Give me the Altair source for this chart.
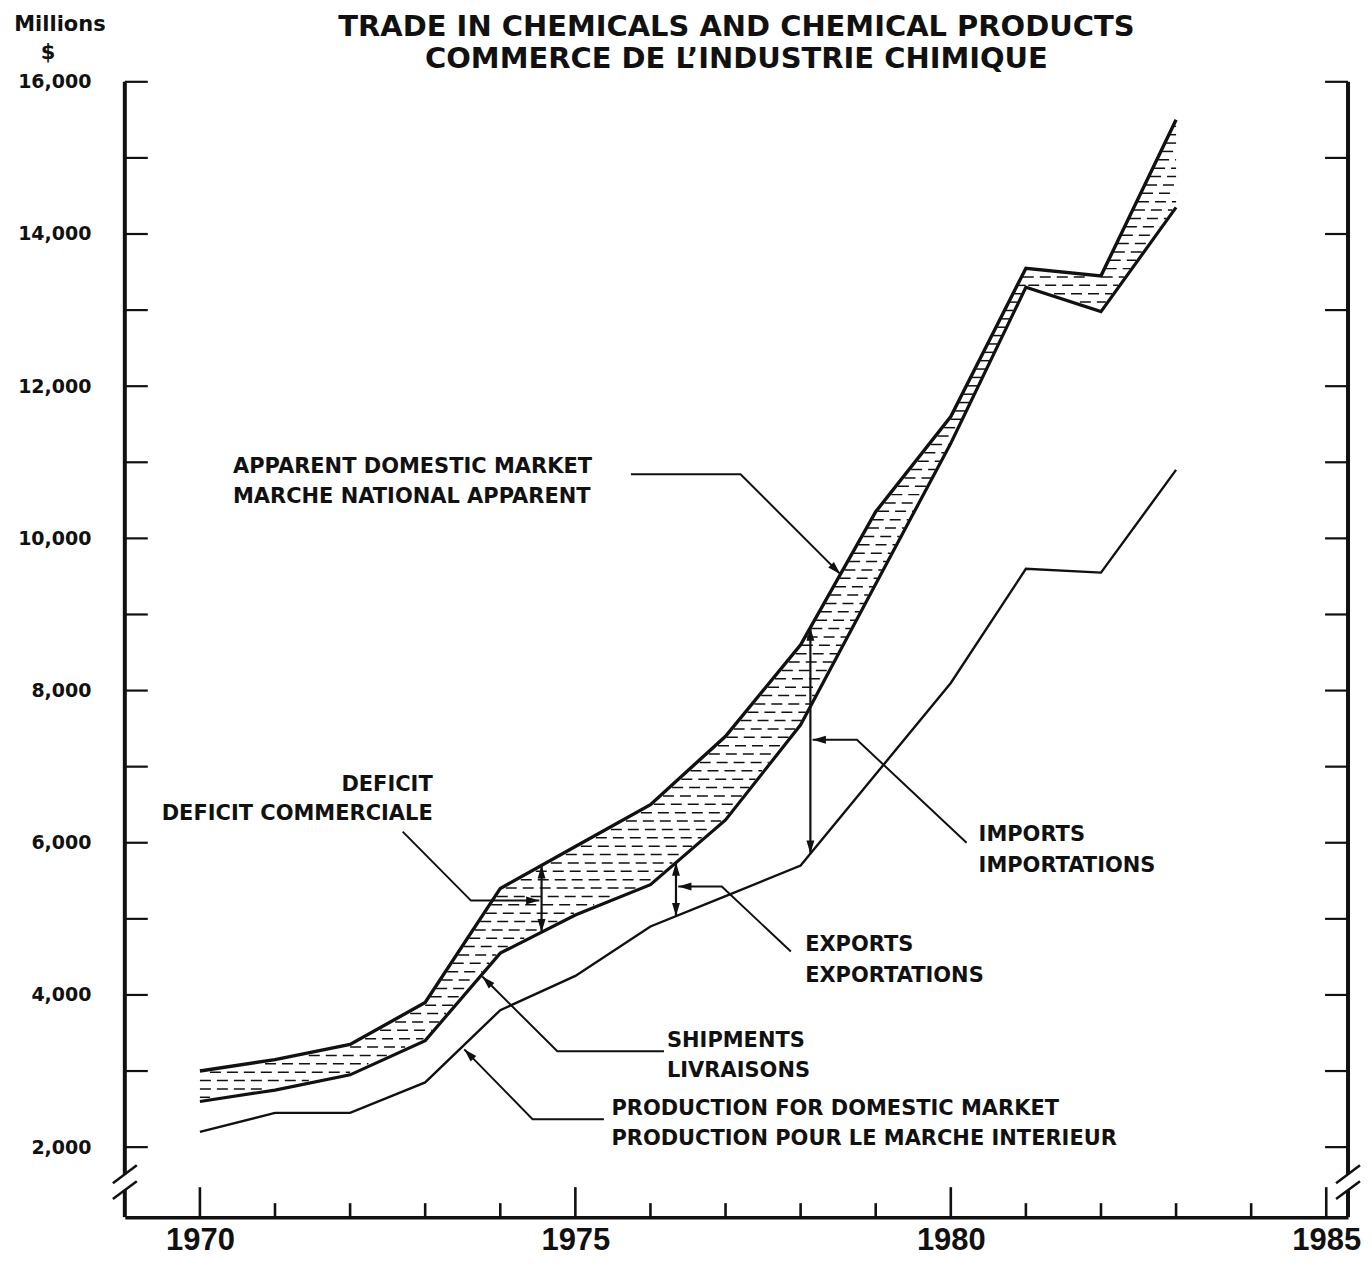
import math
import numpy as np
import pandas as pd
import altair as alt

# ---------------- data (millions of $) ----------------
years = [1970, 1971, 1972, 1973, 1974, 1975, 1976, 1977, 1978, 1979, 1980, 1981, 1982, 1983]
apparent_market = [3000, 3150, 3350, 3900, 5400, 5950, 6500, 7400, 8600, 10350, 11600, 13550, 13450, 15500]
shipments = [2600, 2750, 2950, 3400, 4550, 5050, 5450, 6300, 7550, 9400, 11250, 13300, 12980, 14350]
production_domestic = [2200, 2450, 2450, 2850, 3800, 4250, 4900, 5300, 5700, 6900, 8100, 9600, 9550, 10900]

y_tick_values = list(range(2000, 16001, 1000))
y_label_values = list(range(2000, 16001, 2000))
x_tick_years = list(range(1970, 1986))
x_label_years = [1970, 1975, 1980, 1985]

title_lines = ["TRADE IN CHEMICALS AND CHEMICAL PRODUCTS", "COMMERCE DE L\u2019INDUSTRIE CHIMIQUE"]

# annotation texts: (text, year, value, align)
labels = [
    ("APPARENT DOMESTIC MARKET", 1970.44, 10935, "left"),
    ("MARCHE NATIONAL APPARENT", 1970.44, 10541, "left"),
    ("DEFICIT", 1973.10, 6762, "right"),
    ("DEFICIT COMMERCIALE", 1973.10, 6382, "right"),
    ("IMPORTS", 1980.37, 6106, "left"),
    ("IMPORTATIONS", 1980.37, 5700, "left"),
    ("EXPORTS", 1978.06, 4650, "left"),
    ("EXPORTATIONS", 1978.06, 4243, "left"),
    ("SHIPMENTS", 1976.22, 3390, "left"),
    ("LIVRAISONS", 1976.22, 2997, "left"),
    ("PRODUCTION FOR DOMESTIC MARKET", 1975.48, 2498, "left"),
    ("PRODUCTION POUR LE MARCHE INTERIEUR", 1975.48, 2104, "left"),
]

# leader polylines, last point is the arrow tip
leaders = {
    "apparent": [(1975.74, 10843), (1977.20, 10843), (1978.53, 9530)],
    "deficit": [(1972.70, 6146), (1973.61, 5240), (1974.52, 5240)],
    "imports": [(1980.21, 6001), (1978.75, 7353), (1978.16, 7353)],
    "exports": [(1977.87, 4571), (1976.95, 5424), (1976.37, 5424)],
    "shipments": [(1976.18, 3259), (1974.76, 3259), (1973.76, 4243)],
    "production": [(1975.38, 2367), (1974.43, 2367), (1973.52, 3285)],
}

# vertical double arrows: (year, lower series, upper series)
double_arrows = [
    (1974.55, shipments, apparent_market),
    (1976.34, production_domestic, shipments),
    (1978.13, production_domestic, apparent_market),
]

# ---------------- layout ----------------
X0, X1 = 1969.0, 1985.29
Y0, Y1 = 1080, 16000
W, H = 1225, 1137
PXY = W / (X1 - X0)
PXV = H / (Y1 - Y0)
FONT = "DejaVu Sans"
YEAR_FONT = "Liberation Sans"
INK = "#111111"
ARROW = "M0,0 L-0.3,1 L0.3,1 Z"

xs = alt.Scale(domain=[X0, X1], nice=False, zero=False)
ys = alt.Scale(domain=[Y0, Y1], nice=False, zero=False)

x_axis = alt.Axis(
    values=x_label_years, format="d", title="", ticks=False, tickSize=0, grid=False,
    domain=True, domainColor=INK, domainWidth=3.5, labelFont=YEAR_FONT, labelFontSize=31,
    labelFontWeight="bold", labelColor=INK, labelPadding=32, labelBaseline="alphabetic",
    labelFlush=False)
y_axis = alt.Axis(
    values=y_label_values, format=",.0f", title="", ticks=False, tickSize=0, grid=False,
    domain=False, labelFont=FONT, labelFontSize=19, labelFontWeight="bold",
    labelColor=INK, labelPadding=34)


def X(f="x"):
    return alt.X(f"{f}:Q", scale=xs, axis=x_axis)


def Y(f="y"):
    return alt.Y(f"{f}:Q", scale=ys, axis=y_axis)


# ---------------- hatch rows between shipments and apparent market ----------------
def hatch_rows(xv, lo, hi, step=110, margin=35):
    rows = []
    for L in np.arange(min(lo) + step / 2, max(hi), step):
        ints = []
        for i in range(len(xv) - 1):
            tmin, tmax = 0.0, 1.0
            for a, b, kind in ((lo[i] + margin, lo[i + 1] + margin, "le"),
                               (hi[i] - margin, hi[i + 1] - margin, "ge")):
                d = b - a
                if abs(d) < 1e-9:
                    ok = (a <= L) if kind == "le" else (a >= L)
                    if not ok:
                        tmin, tmax = 1.0, 0.0
                    continue
                tc = (L - a) / d
                if kind == "le":
                    if d > 0:
                        tmax = min(tmax, tc)
                    else:
                        tmin = max(tmin, tc)
                else:
                    if d > 0:
                        tmin = max(tmin, tc)
                    else:
                        tmax = min(tmax, tc)
            if tmax > tmin:
                ints.append([xv[i] + tmin * (xv[i + 1] - xv[i]), xv[i] + tmax * (xv[i + 1] - xv[i])])
        merged = []
        for a, b in ints:
            if merged and a - merged[-1][1] < 1e-6:
                merged[-1][1] = b
            else:
                merged.append([a, b])
        for a, b in merged:
            rows.append({"x": a, "x2": b, "y": float(L)})
    return pd.DataFrame(rows)


hatch_df = hatch_rows(years, shipments, apparent_market)
hatch = alt.Chart(hatch_df).mark_rule(color=INK, strokeWidth=1.5, strokeDash=[11, 6]).encode(
    x=X("x"), x2="x2:Q", y=Y("y"))


# ---------------- series lines ----------------
def series_line(vals, sw):
    df = pd.DataFrame({"x": years, "y": vals})
    return alt.Chart(df).mark_line(color=INK, strokeWidth=sw, strokeJoin="miter").encode(x=X(), y=Y())


line_app = series_line(apparent_market, 3.4)
line_ship = series_line(shipments, 3.2)
line_prod = series_line(production_domestic, 2.4)

# ---------------- axes (drawn) ----------------
brk_hi, brk_lo = 1645, 1435
vaxis_df = pd.DataFrame([
    {"x": X0, "y": Y0, "y2": brk_lo}, {"x": X0, "y": brk_hi, "y2": Y1},
    {"x": X1, "y": Y0, "y2": brk_lo}, {"x": X1, "y": brk_hi, "y2": Y1},
])
vaxis = alt.Chart(vaxis_df).mark_rule(color=INK, strokeWidth=4).encode(x=X(), y=Y(), y2="y2:Q")

dxb, dyb = 12 / PXY, 9 / PXV
brk_rows = []
for ax in (X0, X1):
    for c in (brk_hi, brk_lo):
        brk_rows.append({"x": ax - dxb, "y": c - dyb, "x2": ax + dxb, "y2": c + dyb})
breaks = alt.Chart(pd.DataFrame(brk_rows)).mark_rule(color=INK, strokeWidth=2.5).encode(
    x=X(), y=Y(), x2="x2:Q", y2="y2:Q")

yt = pd.DataFrame({"y": y_tick_values})
ticks_left = alt.Chart(yt).mark_rule(color=INK, strokeWidth=2.2).encode(
    y=Y(), x=alt.value(0), x2=alt.value(23))
ticks_right = alt.Chart(yt).mark_rule(color=INK, strokeWidth=2.2).encode(
    y=Y(), x=alt.value(W - 23), x2=alt.value(W))

xt = pd.DataFrame({"x": x_tick_years})
xt["y"] = Y0
xt["y2"] = [Y0 + (30 if yr % 5 == 0 else 14) / PXV for yr in x_tick_years]
ticks_bottom = alt.Chart(xt).mark_rule(color=INK, strokeWidth=2.6).encode(x=X(), y=Y(), y2="y2:Q")

# ---------------- leaders + arrows ----------------
lead_rows, head_rows = [], []
for k, pts in leaders.items():
    for i, (px, py) in enumerate(pts):
        lead_rows.append({"id": k, "o": i, "x": px, "y": py})
    (ax_, ay_), (bx_, by_) = pts[-2], pts[-1]
    dx = (bx_ - ax_) * PXY
    dy = -(by_ - ay_) * PXV
    ang = math.degrees(math.atan2(dx, -dy)) % 360
    head_rows.append({"x": bx_, "y": by_, "a": ang})

da_rows = []
for yr, lo_s, hi_s in double_arrows:
    lo = float(np.interp(yr, years, lo_s))
    hi = float(np.interp(yr, years, hi_s))
    da_rows.append({"x": yr, "y": lo, "y2": hi})
    head_rows.append({"x": yr, "y": hi, "a": 0.0})
    head_rows.append({"x": yr, "y": lo, "a": 180.0})

leader_lines = alt.Chart(pd.DataFrame(lead_rows)).mark_line(color=INK, strokeWidth=2).encode(
    x=X(), y=Y(), detail="id:N", order="o:Q")
dbl = alt.Chart(pd.DataFrame(da_rows)).mark_rule(color=INK, strokeWidth=2.2).encode(
    x=X(), y=Y(), y2="y2:Q")
heads = alt.Chart(pd.DataFrame(head_rows)).mark_point(
    shape=ARROW, filled=True, size=700, color=INK, opacity=1, strokeWidth=0).encode(
    x=X(), y=Y(), angle=alt.Angle("a:Q", scale=None))

# ---------------- texts ----------------
lab_df = pd.DataFrame(labels, columns=["t", "x", "y", "al"])
texts = []
for al in ("left", "right"):
    sub = lab_df[lab_df["al"] == al]
    texts.append(alt.Chart(sub).mark_text(
        align=al, baseline="middle", font=FONT, fontSize=21, fontWeight="bold", color=INK).encode(
        x=X(), y=Y(), text="t:N"))

one = pd.DataFrame({"a": [0]})


def fixed_text(txt, px, py, size):
    return alt.Chart(one).mark_text(align="center", baseline="middle", font=FONT, fontSize=size,
                                    fontWeight="bold", color=INK).encode(
        x=alt.value(px), y=alt.value(py), text=alt.value(txt))


title1 = fixed_text(title_lines[0], W / 2, -55, 29)
title2 = fixed_text(title_lines[1], W / 2, -23, 29)
unit1 = fixed_text("Millions", -65, -57, 21)
unit2 = fixed_text("$", -77, -29, 21)

chart = alt.layer(
    hatch, line_prod, line_ship, line_app, vaxis, breaks,
    ticks_left, ticks_right, ticks_bottom, leader_lines, dbl, heads,
    *texts, title1, title2, unit1, unit2,
).properties(
    width=W, height=H,
    padding={"left": 117, "top": 73, "right": 16, "bottom": 40},
    autosize=alt.AutoSizeParams(type="none"),
    background="white",
).configure_view(strokeWidth=0)

chart.save("out.html", embed_options={"renderer": "svg", "actions": False})
